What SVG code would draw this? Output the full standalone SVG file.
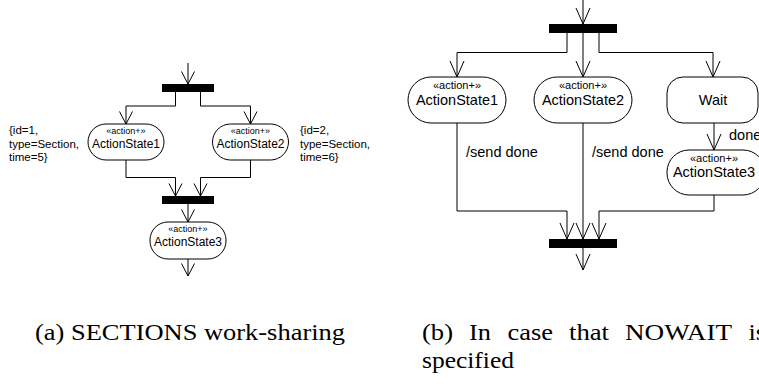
<svg xmlns="http://www.w3.org/2000/svg" width="759" height="386" viewBox="0 0 759 386">
  <style>
    .bg { fill: #ffffff; }
    .edge { fill: none; stroke: #000; stroke-width: 1; }
    .bar { fill: #000; }
    .node { fill: #fff; stroke: #000; stroke-width: 1; }
    .sans { font-family: "Liberation Sans", Arial, sans-serif; fill: #000; }
    .capt { font-family: "Liberation Serif", "DejaVu Serif", serif; fill: #000; font-size: 23px; }
    .st-a { font-size: 9px; }
    .nm-a { font-size: 12px; }
    .note { font-size: 11.5px; }
    .st-b { font-size: 11px; }
    .nm-b { font-size: 14.5px; }
  </style>
  <rect class="bg" x="0" y="0" width="759" height="386"/>

  <!-- (a) sections work-sharing -->
  <g id="a-connectors">
    <path class="edge" d="M188,63 V84"/>
    <path class="edge" d="M175.5,92 V106 H126 V124"/>
    <path class="edge" d="M200.5,92 V106 H250.5 V124"/>
    <path class="edge" d="M126,160 V177.5 H175.5 V196"/>
    <path class="edge" d="M250.5,160 V177.5 H200.5 V196"/>
    <path class="edge" d="M188,204 V222"/>
    <path class="edge" d="M188,259 V276"/>
    <!-- open arrowheads -->
    <path class="edge" d="M181.5,71.5 L188,84 L194.5,71.5"/>
    <path class="edge" d="M119.5,111.5 L126,124 L132.5,111.5"/>
    <path class="edge" d="M244,111.5 L250.5,124 L257,111.5"/>
    <path class="edge" d="M169,183.5 L175.5,196 L182,183.5"/>
    <path class="edge" d="M194,183.5 L200.5,196 L207,183.5"/>
    <path class="edge" d="M181.5,209.5 L188,222 L194.5,209.5"/>
    <path class="edge" d="M181.5,263.5 L188,276 L194.5,263.5"/>
  </g>
  <g id="a-fork"><rect class="bar" x="162" y="84" width="52" height="8"/></g>
  <g id="a-join"><rect class="bar" x="162" y="196" width="52" height="8"/></g>
  <g id="a-as1">
    <rect class="node" x="88" y="124" width="76" height="36" rx="18" ry="18"/>
    <text class="sans st-a" x="126" y="134" text-anchor="middle">«action+»</text>
    <text class="sans nm-a" x="126" y="147.5" text-anchor="middle">ActionState1</text>
  </g>
  <g id="a-as2">
    <rect class="node" x="212.5" y="124" width="76" height="36" rx="18" ry="18"/>
    <text class="sans st-a" x="250.5" y="134" text-anchor="middle">«action+»</text>
    <text class="sans nm-a" x="250.5" y="147.5" text-anchor="middle">ActionState2</text>
  </g>
  <g id="a-as3">
    <rect class="node" x="150" y="222" width="76" height="37" rx="18" ry="18"/>
    <text class="sans st-a" x="188" y="232" text-anchor="middle">«action+»</text>
    <text class="sans nm-a" x="188" y="246" text-anchor="middle">ActionState3</text>
  </g>
  <g id="a-note1">
    <text class="sans note" x="9" y="134">{id=1,</text>
    <text class="sans note" x="9" y="147.5">type=Section,</text>
    <text class="sans note" x="9" y="161">time=5}</text>
  </g>
  <g id="a-note2">
    <text class="sans note" x="300" y="134">{id=2,</text>
    <text class="sans note" x="300" y="147.5">type=Section,</text>
    <text class="sans note" x="300" y="161">time=6}</text>
  </g>

  <!-- (b) NOWAIT -->
  <g id="b-connectors">
    <path class="edge" d="M583,0 V24"/>
    <path class="edge" d="M567,33 V52.5 H457 V77"/>
    <path class="edge" d="M583,33 V77"/>
    <path class="edge" d="M599,33 V52.5 H713 V77"/>
    <path class="edge" d="M714,123 V150"/>
    <path class="edge" d="M457,123 V211 H567 V239"/>
    <path class="edge" d="M583,123 V239"/>
    <path class="edge" d="M714,195 V211 H599 V239"/>
    <path class="edge" d="M583,248 V270"/>
    <!-- open arrowheads -->
    <path class="edge" d="M576,8 L583,24 L590,8"/>
    <path class="edge" d="M450,61 L457,77 L464,61"/>
    <path class="edge" d="M576,61 L583,77 L590,61"/>
    <path class="edge" d="M706,61 L713,77 L720,61"/>
    <path class="edge" d="M707,134 L714,150 L721,134"/>
    <path class="edge" d="M560,223 L567,239 L574,223"/>
    <path class="edge" d="M576,223 L583,239 L590,223"/>
    <path class="edge" d="M592,223 L599,239 L606,223"/>
    <path class="edge" d="M576,254 L583,270 L590,254"/>
    <text class="sans nm-b" x="466" y="157">/send done</text>
    <text class="sans nm-b" x="592" y="157">/send done</text>
    <text class="sans nm-b" x="729" y="140">done</text>
  </g>
  <g id="b-fork"><rect class="bar" x="549" y="24" width="68" height="9"/></g>
  <g id="b-join"><rect class="bar" x="549" y="239" width="68" height="9"/></g>
  <g id="b-as1">
    <rect class="node" x="408" y="77" width="98" height="46" rx="23" ry="23"/>
    <text class="sans st-b" x="457" y="89" text-anchor="middle">«action+»</text>
    <text class="sans nm-b" x="457" y="105" text-anchor="middle">ActionState1</text>
  </g>
  <g id="b-as2">
    <rect class="node" x="534" y="77" width="98" height="46" rx="23" ry="23"/>
    <text class="sans st-b" x="583" y="89" text-anchor="middle">«action+»</text>
    <text class="sans nm-b" x="583" y="105" text-anchor="middle">ActionState2</text>
  </g>
  <g id="b-wait">
    <rect class="node" x="667" y="77" width="91" height="46" rx="16" ry="16"/>
    <text class="sans nm-b" x="713" y="105" text-anchor="middle">Wait</text>
  </g>
  <g id="b-as3">
    <rect class="node" x="667" y="150" width="98" height="45" rx="22" ry="22"/>
    <text class="sans st-b" x="714" y="162" text-anchor="middle">«action+»</text>
    <text class="sans nm-b" x="714" y="177" text-anchor="middle">ActionState3</text>
  </g>

  <!-- captions -->
  <g id="caption-a">
    <text class="capt" x="35" y="340" textLength="310" lengthAdjust="spacingAndGlyphs">(a) SECTIONS work-sharing</text>
  </g>
  <g id="caption-b">
    <text class="capt" x="422" y="340" textLength="31" lengthAdjust="spacingAndGlyphs">(b)</text>
    <text class="capt" x="469" y="340" textLength="22" lengthAdjust="spacingAndGlyphs">In</text>
    <text class="capt" x="507.5" y="340" textLength="45.5" lengthAdjust="spacingAndGlyphs">case</text>
    <text class="capt" x="569" y="340" textLength="40" lengthAdjust="spacingAndGlyphs">that</text>
    <text class="capt" x="625" y="340" textLength="107" lengthAdjust="spacingAndGlyphs">NOWAIT</text>
    <text class="capt" x="748.5" y="340" textLength="17.5" lengthAdjust="spacingAndGlyphs">is</text>
    <text class="capt" x="422" y="368" textLength="92" lengthAdjust="spacingAndGlyphs">specified</text>
  </g>
</svg>
